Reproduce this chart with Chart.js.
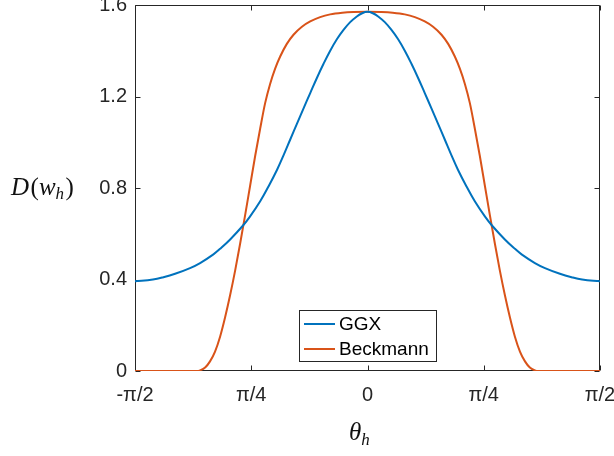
<!DOCTYPE html>
<html>
<head>
<meta charset="utf-8">
<script src="https://cdn.jsdelivr.net/npm/chart.js@4/dist/chart.umd.min.js"></script>
<style>
  html, body { margin: 0; padding: 0; background: #fff; }
  #wrap { width: 614px; height: 456px; }
</style>
</head>
<body>
<div id="wrap"><canvas id="myChart" width="614" height="456"></canvas></div>
<script>
// values (theta in radians)
const ggxTheta = [-1.571, -1.45, -1.379, -1.30, -1.199, -1.131, -1.041, -0.996, -0.928, -0.841, -0.793, -0.725, -0.668,
                  -0.611, -0.566, -0.522, -0.477, -0.432, -0.387, -0.342, -0.297, -0.252, -0.207, -0.162, -0.117, -0.072, -0.036, 0,
                  0.036, 0.072, 0.117, 0.162, 0.207, 0.252, 0.297, 0.342, 0.387, 0.432, 0.477, 0.522, 0.566, 0.611,
                  0.668, 0.725, 0.793, 0.841, 0.928, 0.996, 1.041, 1.131, 1.199, 1.30, 1.379, 1.45, 1.571];
const ggxValues = [0.392, 0.400, 0.410, 0.425, 0.450, 0.472, 0.510, 0.534, 0.575, 0.636, 0.676, 0.742, 0.808,
                   0.880, 0.945, 1.012, 1.080, 1.148, 1.215, 1.281, 1.343, 1.400, 1.450, 1.491, 1.525, 1.550, 1.564, 1.570,
                   1.564, 1.550, 1.525, 1.491, 1.450, 1.400, 1.343, 1.281, 1.215, 1.148, 1.080, 1.012, 0.945, 0.880,
                   0.808, 0.742, 0.676, 0.636, 0.575, 0.534, 0.510, 0.472, 0.450, 0.425, 0.410, 0.400, 0.392];

const beckTheta = [-1.571, -1.25, -1.15, -1.131, -1.097, -1.064, -1.030, -0.996, -0.962, -0.928, -0.894, -0.861, -0.827,
                   -0.793, -0.759, -0.725, -0.692, -0.658, -0.624, -0.590, -0.545, -0.500, -0.443, -0.387, -0.320, -0.252, -0.170, -0.095, 0,
                   0.095, 0.170, 0.252, 0.320, 0.387, 0.443, 0.500, 0.545, 0.590, 0.624, 0.658, 0.692, 0.725, 0.759,
                   0.793, 0.827, 0.861, 0.894, 0.928, 0.962, 0.996, 1.030, 1.064, 1.097, 1.131, 1.15, 1.25, 1.571];
const beckValues = [0, 0, 0, 0.003, 0.015, 0.042, 0.085, 0.150, 0.235, 0.332, 0.440, 0.555, 0.680,
                    0.810, 0.940, 1.060, 1.170, 1.255, 1.322, 1.375, 1.430, 1.470, 1.505, 1.528, 1.547, 1.559, 1.566, 1.569, 1.570,
                    1.569, 1.566, 1.559, 1.547, 1.528, 1.505, 1.470, 1.430, 1.375, 1.322, 1.255, 1.170, 1.060, 0.940,
                    0.810, 0.680, 0.555, 0.440, 0.332, 0.235, 0.150, 0.085, 0.042, 0.015, 0.003, 0, 0, 0];

const seriesNames = ['GGX', 'Beckmann'];
const seriesColors = ['#0072BD', '#D95319'];

const xTickValues = [-Math.PI / 2, -Math.PI / 4, 0, Math.PI / 4, Math.PI / 2];
const xTickLabels = ['-π/2', 'π/4', '0', 'π/4', 'π/2'];
const yTickValues = [0, 0.4, 0.8, 1.2, 1.6];

const axisColor = '#262626';
const tickFont = { family: 'Liberation Sans', size: 20 };

function toPoints(xs, ys) {
  return xs.map((x, i) => ({ x: x, y: ys[i] }));
}

// box, inward ticks, axis titles and legend, MATLAB style
const matlabAxes = {
  id: 'matlabAxes',
  beforeDatasetsDraw(chart) {
    const { ctx, chartArea: a, scales } = chart;
    const l = Math.round(a.left) + 0.5;
    const r = Math.round(a.right) - 0.5;
    const t = Math.round(a.top) + 0.5;
    const b = Math.round(a.bottom) - 0.5;
    ctx.save();
    ctx.strokeStyle = axisColor;
    ctx.lineWidth = 1;
    ctx.beginPath();
    ctx.moveTo(l, t); ctx.lineTo(r, t); ctx.lineTo(r, b); ctx.lineTo(l, b); ctx.closePath();
    const len = 5;
    xTickValues.forEach(v => {
      const px = Math.round(scales.x.getPixelForValue(v)) + 0.5;
      ctx.moveTo(px, b); ctx.lineTo(px, b - len);
      ctx.moveTo(px, t); ctx.lineTo(px, t + len);
    });
    yTickValues.forEach(v => {
      const py = Math.round(scales.y.getPixelForValue(v)) + 0.5;
      ctx.moveTo(l, py); ctx.lineTo(l + len, py);
      ctx.moveTo(r, py); ctx.lineTo(r - len, py);
    });
    ctx.stroke();
    ctx.restore();
  },
  afterDraw(chart) {
    const { ctx } = chart;
    ctx.save();
    ctx.fillStyle = '#111';
    ctx.textBaseline = 'alphabetic';
    // y title D(w_h)
    let x = 11, y = 195;
    const parts = [
      ['italic 25px "Liberation Serif"', 'D', 0],
      ['25px "Liberation Serif"', '(', 0],
      ['italic 25px "Liberation Serif"', 'w', 0],
      ['italic 17px "Liberation Serif"', 'h', 4],
      ['25px "Liberation Serif"', ')', 0]
    ];
    parts.forEach(p => {
      ctx.font = p[0];
      ctx.fillText(p[1], x, y + p[2]);
      x += ctx.measureText(p[1]).width + (p[1] === 'D' || p[1] === 'h' ? 1.5 : 0);
    });
    // x title theta_h
    x = 349; y = 440;
    ctx.font = 'italic 25px "Liberation Serif"';
    ctx.fillText('θ', x, y);
    x += ctx.measureText('θ').width;
    ctx.font = 'italic 17px "Liberation Serif"';
    ctx.fillText('h', x, y + 5);

    // legend
    const lx = 299.5, ly = 310.5, lw = 137, lh = 51;
    ctx.fillStyle = '#fff';
    ctx.fillRect(lx, ly, lw, lh);
    ctx.strokeStyle = axisColor;
    ctx.lineWidth = 1;
    ctx.strokeRect(lx, ly, lw, lh);
    ctx.font = '19px "Liberation Sans"';
    ctx.textBaseline = 'middle';
    seriesNames.forEach((name, i) => {
      const ry = 324 + i * 25;
      ctx.strokeStyle = seriesColors[i];
      ctx.lineWidth = 2;
      ctx.beginPath();
      ctx.moveTo(304, ry); ctx.lineTo(335, ry);
      ctx.stroke();
      ctx.fillStyle = '#000';
      ctx.fillText(name, 339, ry + 1);
    });
    ctx.restore();
  }
};

const ctx = document.getElementById('myChart').getContext('2d');
const myChart = new Chart(ctx, {
  type: 'line',
  data: {
    datasets: [
      { label: seriesNames[0], data: toPoints(ggxTheta, ggxValues), borderColor: seriesColors[0],
        cubicInterpolationMode: 'default', tension: 0.4 },
      { label: seriesNames[1], data: toPoints(beckTheta, beckValues), borderColor: seriesColors[1],
        cubicInterpolationMode: 'monotone' }
    ]
  },
  options: {
    responsive: false,
    animation: false,
    devicePixelRatio: 1,
    layout: { padding: { top: 5, right: 14, left: 0, bottom: 0 } },
    elements: {
      point: { radius: 0 },
      line: { borderWidth: 2, fill: false }
    },
    plugins: {
      legend: { display: false },
      tooltip: { enabled: false }
    },
    scales: {
      x: {
        type: 'linear',
        min: -Math.PI / 2,
        max: Math.PI / 2,
        afterBuildTicks(scale) { scale.ticks = xTickValues.map(v => ({ value: v })); },
        afterFit(scale) {
          scale.height = 85;
          scale.paddingLeft = 0; scale.paddingRight = 0;
        },
        grid: { display: false, drawTicks: false },
        border: { display: false },
        ticks: {
          padding: 12,
          color: axisColor,
          font: tickFont,
          maxRotation: 0,
          callback(value, index) { return xTickLabels[index]; }
        }
      },
      y: {
        min: 0,
        max: 1.6,
        afterBuildTicks(scale) { scale.ticks = yTickValues.map(v => ({ value: v })); },
        afterFit(scale) {
          scale.width = 135;
          scale.paddingTop = 0; scale.paddingBottom = 0;
        },
        grid: { display: false, drawTicks: false },
        border: { display: false },
        ticks: {
          padding: 8,
          color: axisColor,
          font: tickFont,
          callback(value) { return value === 0 ? '0' : value.toFixed(1); }
        }
      }
    }
  },
  plugins: [matlabAxes]
});
</script>
</body>
</html>
